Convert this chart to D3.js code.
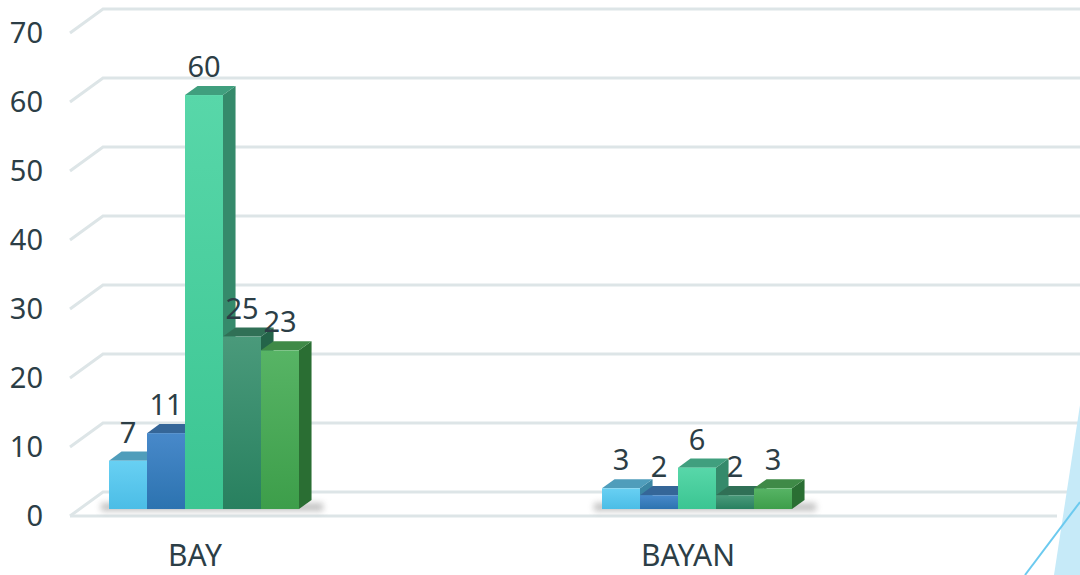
<!DOCTYPE html>
<html>
<head>
<meta charset="utf-8">
<script src="https://cdn.jsdelivr.net/npm/d3@7"></script>
<style>
  body { margin: 0; background: #fff; }
  text { font-family: "Noto Sans", "Open Sans", sans-serif; fill: #2c3e46; }
</style>
</head>
<body>
<div id="chart"></div>
<script>
const categories = ["BAY", "BAYAN"];
const seriesNames = ["Seri 1", "Seri 2", "Seri 3", "Seri 4", "Seri 5"];
const seriesValues = [
    [7, 3],
    [11, 2],
    [60, 6],
    [25, 2],
    [23, 3]
];
const yTicks = [0, 10, 20, 30, 40, 50, 60, 70];

// front gradient top/bottom, top cap, side
const palette = [
    {top: "#68d0f3", bottom: "#4bbde6", cap: "#4f9dbb", side: "#3b86a3"},
    {top: "#4889ca", bottom: "#2c73b0", cap: "#356698", side: "#27547f"},
    {top: "#58d7a9", bottom: "#3bc592", cap: "#409f7e", side: "#358a6b"},
    {top: "#4a9a7b", bottom: "#28805f", cap: "#307056", side: "#236449"},
    {top: "#57b465", bottom: "#3d9e4a", cap: "#3f8a47", side: "#2a6e33"}
];

const W = 1080, H = 575;
const svg = d3.select("#chart")
    .append("svg")
    .attr("width", W)
    .attr("height", H);

const defs = svg.append("defs");
palette.forEach((p, i) => {
    const g = defs.append("linearGradient")
        .attr("id", "grad" + i)
        .attr("x1", 0).attr("y1", 0).attr("x2", 0).attr("y2", 1);
    g.append("stop").attr("offset", "0%").attr("stop-color", p.top);
    g.append("stop").attr("offset", "100%").attr("stop-color", p.bottom);
});
defs.append("filter").attr("id", "blur")
    .attr("x", "-50%").attr("y", "-100%").attr("width", "200%").attr("height", "300%")
    .append("feGaussianBlur").attr("stdDeviation", 3);

// 3D layout: value scale on the front plane, depth pushes up and right
const yScale = d3.scaleLinear().domain([0, 70]).range([516, 33]);
const depthX = 33, depthY = 24;
const frontZ = 0.29, backZ = 0.67;
const xLeft = 70, xRight = 1057;

const x0 = d3.scalePoint().domain(categories).range([204, 697]);
const x1 = d3.scaleBand().domain(seriesNames).range([-95, 95]);

// gridlines
const grid = svg.append("g").attr("fill", "none")
    .attr("stroke", "#dde5e7").attr("stroke-width", 3);
yTicks.forEach(t => {
    const yf = yScale(t), yb = yf - depthY;
    grid.append("polyline")
        .attr("points", `${xLeft},${yf} ${xLeft + depthX},${yb} ${W + 5},${yb}`);
});
// floor front edge
grid.append("line")
    .attr("x1", xLeft).attr("y1", yScale(0))
    .attr("x2", xRight).attr("y2", yScale(0));

// y axis labels
svg.append("g").selectAll("text")
    .data(yTicks)
    .join("text")
    .attr("x", 43)
    .attr("y", d => yScale(d))
    .attr("dy", "0.36em")
    .attr("text-anchor", "end")
    .attr("font-size", 29)
    .text(d => d);

// category labels
svg.append("g").selectAll("text")
    .data(categories)
    .join("text")
    .attr("x", d => x0(d) - 9)
    .attr("y", 566)
    .attr("text-anchor", "middle")
    .attr("font-size", 30)
    .text(d => d);

// bars
const dx = (backZ - frontZ) * depthX, dy = (backZ - frontZ) * depthY;
const base = yScale(0) - frontZ * depthY;

categories.forEach((cat, ci) => {
    const g = svg.append("g");
    const gx0 = x0(cat) + x1.range()[0];
    const gx1 = x0(cat) + x1.range()[1];
    g.append("rect")
        .attr("x", gx0 - 8).attr("y", base - 6)
        .attr("width", gx1 - gx0 + 32).attr("height", 8)
        .attr("fill", "#666").attr("opacity", 0.4)
        .attr("filter", "url(#blur)");

    seriesNames.forEach((s, si) => {
        const v = seriesValues[si][ci];
        const p = palette[si];
        const xa = x0(cat) + x1(s);
        const xb = xa + x1.bandwidth();
        const top = base - (yScale(0) - yScale(v));
        g.append("polygon")
            .attr("points", `${xb},${top} ${xb + dx},${top - dy} ${xb + dx},${base - dy} ${xb},${base}`)
            .attr("fill", p.side);
        g.append("polygon")
            .attr("points", `${xa},${top} ${xa + dx},${top - dy} ${xb + dx},${top - dy} ${xb},${top}`)
            .attr("fill", p.cap);
        g.append("rect")
            .attr("x", xa).attr("y", top)
            .attr("width", x1.bandwidth()).attr("height", base - top)
            .attr("fill", `url(#grad${si})`);
        g.append("text")
            .attr("x", (xa + xb) / 2)
            .attr("y", top - 18)
            .attr("text-anchor", "middle")
            .attr("font-size", 29)
            .text(v);
    });
});

// decorative corner shape
svg.append("polygon")
    .attr("points", "1080,405 1054,575 1080,575")
    .attr("fill", "#c6eaf8");
svg.append("line")
    .attr("x1", 1025).attr("y1", 575).attr("x2", 1080).attr("y2", 502)
    .attr("stroke", "#6ccaef").attr("stroke-width", 2);
</script>
</body>
</html>
